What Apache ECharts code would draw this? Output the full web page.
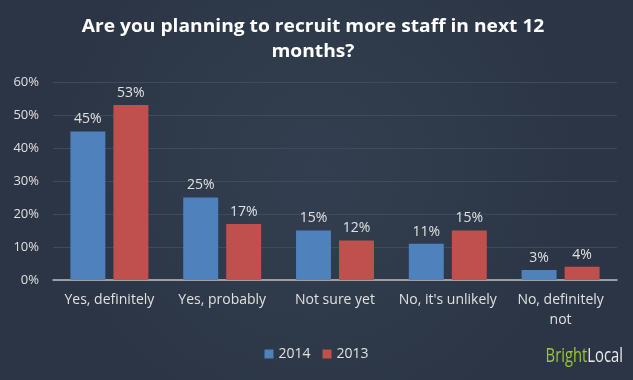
<!DOCTYPE html>
<html><head><meta charset="utf-8">
<script src="https://cdn.jsdelivr.net/npm/echarts@6/dist/echarts.min.js"></script>
<style>html,body{margin:0;padding:0;background:#2d3848;}#c{width:633px;height:380px;}</style>
</head><body><div id="c"></div>
<script>
var titleText = 'Are you planning to recruit more staff in next 12\nmonths?';
var categories = ['Yes, definitely', 'Yes, probably', 'Not sure yet', "No, it's unlikely", 'No, definitely\nnot'];
var values2014 = [45, 25, 15, 11, 3];
var values2013 = [53, 17, 12, 15, 4];
var seriesNames = ['2014', '2013'];
var yTicks = [0, 10, 20, 30, 40, 50, 60];

var chart = echarts.init(document.getElementById('c'));
var lbl = {show: true, position: 'top', formatter: '{c}%', color: '#e0e0e0', fontSize: 14, fontFamily: 'Open Sans', distance: 5};
chart.setOption({
  backgroundColor: {type: 'radial', x: 0.5, y: 0.45, r: 0.7, colorStops: [{offset: 0, color: '#333f50'}, {offset: 1, color: '#2b3545'}]},
  legend: {
    data: seriesNames, bottom: 14, left: 'center', itemWidth: 9, itemHeight: 9, itemGap: 12,
    icon: 'rect', textStyle: {color: '#e0e0e0', fontSize: 14, fontFamily: 'Open Sans'}
  },
  grid: {left: 53, right: 16, top: 82, bottom: 100},
  xAxis: {
    type: 'category', data: categories,
    axisLine: {lineStyle: {color: '#bfbfbf', width: 1.5}},
    axisTick: {show: false},
    axisLabel: {color: '#e0e0e0', fontSize: 14, fontFamily: 'Open Sans', margin: 10, lineHeight: 20, interval: 0}
  },
  yAxis: {
    type: 'value', min: 0, max: 60, interval: 10,
    axisLabel: {formatter: '{value}%', color: '#e0e0e0', fontSize: 13, fontFamily: 'Open Sans', margin: 14},
    splitLine: {lineStyle: {color: '#3f4a5a', width: 1}},
    axisLine: {show: false}, axisTick: {show: false}
  },
  series: [
    {name: seriesNames[0], type: 'bar', data: values2014, barWidth: '31%', barGap: '23%', itemStyle: {color: '#4f81bd'}, label: lbl},
    {name: seriesNames[1], type: 'bar', data: values2013, barWidth: '31%', itemStyle: {color: '#c0504d'}, label: lbl}
  ],
  graphic: [{
    type: 'text', x: 313, y: 40, scaleX: 1.13,
    style: {
      text: titleText, fill: '#ffffff', font: 'bold 17px "Open Sans"', lineHeight: 25,
      align: 'center', verticalAlign: 'middle'
    }
  }, {
    type: 'text', x: 623, y: 356, scaleX: 0.74,
    style: {
      text: '{a|Bright}{b|Local}', align: 'right', verticalAlign: 'middle',
      rich: {
        a: {fill: '#9cc43c', fontSize: 20, fontFamily: 'Open Sans'},
        b: {fill: '#e8e8e8', fontSize: 20, fontFamily: 'Open Sans'}
      }
    }
  }]
});
</script></body></html>
